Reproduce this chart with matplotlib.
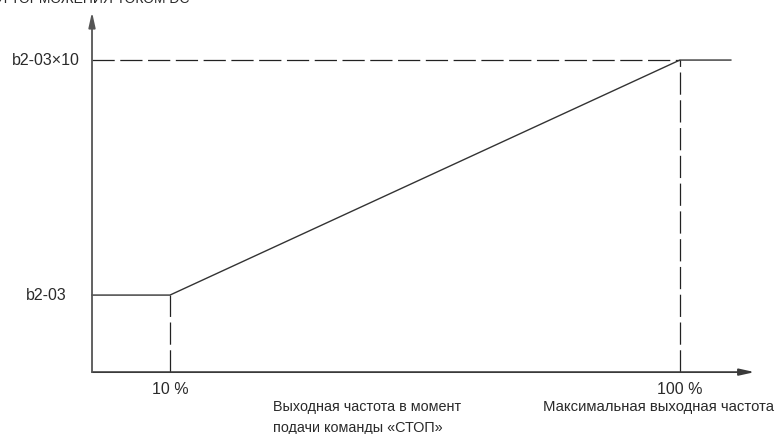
import matplotlib
matplotlib.use("Agg")
import matplotlib.pyplot as plt

plt.rcParams['font.family'] = ['Liberation Sans', 'DejaVu Sans']
plt.rcParams['lines.scale_dashes'] = False

# characteristic: output frequency (%) -> DC braking time
freq = [-3.76, 10, 100, 109]
brake = [1, 1, 10, 10]
ytick_vals = [1, 10]
ytick_labels = ['b2-03', 'b2-03×10']
xtick_vals = [10, 100]
xtick_labels = ['10 %', '100 %']

x0, y0 = freq[0], -1.95      # axis origin
x_end, y_end = 113.2, 11.84  # arrow tips

fig = plt.figure(figsize=(7.79, 4.34), dpi=100)
ax = fig.add_axes([0, 0, 1, 1])
ax.set_xlim(-20, 117.5)
ax.set_ylim(-4.32, 12.3)
ax.axis('off')

axis_col = '#3a3a3a'
ax.annotate('', xy=(x_end, y0), xytext=(x0, y0),
            arrowprops=dict(arrowstyle='-|>,head_length=0.9,head_width=0.2',
                            color=axis_col, lw=1.3, shrinkA=0, shrinkB=0))
ax.annotate('', xy=(x0, y_end), xytext=(x0, y0),
            arrowprops=dict(arrowstyle='-|>,head_length=0.9,head_width=0.2',
                            color='#555555', lw=1.3, shrinkA=0, shrinkB=0))

dash = (0, (16, 4))
ax.plot([x0, freq[2]], [brake[2], brake[2]], color='#222222', lw=0.9, linestyle=dash)
ax.plot([freq[1], freq[1]], [y0, brake[1]], color='#222222', lw=0.9, linestyle=dash)
ax.plot([freq[2], freq[2]], [y0, brake[2]], color='#222222', lw=0.9, linestyle=dash)

ax.plot(freq, brake, color='#333333', lw=1.0)

txt_col = '#2a2a2a'
for v, lab in zip(ytick_vals, ytick_labels):
    ax.text(-11.9, v, lab, ha='center', va='center', fontsize=11.5, color=txt_col)
for v, lab in zip(xtick_vals, xtick_labels):
    ax.text(v, -2.6, lab, ha='center', va='center', fontsize=11.5, color=txt_col)

ax.text(28.2, -3.3, 'Выходная частота в момент', ha='left', va='center',
        fontsize=10.4, color=txt_col)
ax.text(28.2, -4.1, 'подачи команды «СТОП»', ha='left', va='center',
        fontsize=10.4, color=txt_col)
ax.text(96.3, -3.3, 'Максимальная выходная частота', ha='center', va='center',
        fontsize=10.7, color=txt_col)
ax.text(13.5, 12.33, 'ВРЕМЯ ТОРМОЖЕНИЯ ТОКОМ DC', ha='right', va='center',
        fontsize=10, color=txt_col)

fig.savefig('out.png', dpi=100)
plt.close(fig)
